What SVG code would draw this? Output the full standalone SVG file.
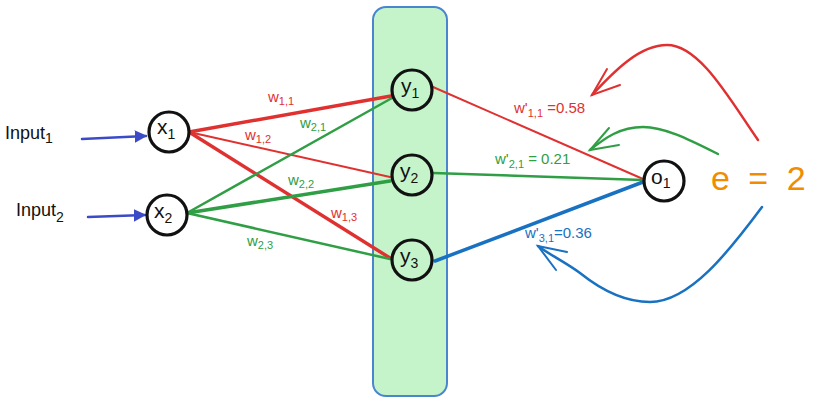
<svg xmlns="http://www.w3.org/2000/svg" width="817" height="404" viewBox="0 0 817 404">
<defs>
<style>
text{font-family:"Liberation Sans","DejaVu Sans",sans-serif}
.node{fill:#fff;stroke:#111;stroke-width:3.2}
.hnode{fill:#c5f4cb;stroke:#111;stroke-width:3.2}
.nl{font-size:21px;fill:#111}
.sub{font-size:14px}
.red{stroke:#e03131;fill:none;stroke-linecap:round}
.green{stroke:#2f9e44;fill:none;stroke-linecap:round}
.blue{stroke:#1971c2;fill:none;stroke-linecap:round}
.ind{stroke:#3b4bc8;fill:none;stroke-width:2.5;stroke-linecap:round}
.lr{fill:#e03131;font-size:15px}
.lg{fill:#2f9e44;font-size:15px}
.lb{fill:#1971c2;font-size:15px}
.ls{font-size:11px}
</style>
<marker id="ah" viewBox="0 0 10 10" refX="9" refY="5" markerWidth="5" markerHeight="5" orient="auto"><path d="M0,0 L10,5 L0,10 Z" fill="#3b4bc8"/></marker>
</defs>
<g id="layer">
<rect x="373" y="7" width="74" height="389" rx="13" fill="#c5f4cb" stroke="#4a86d0" stroke-width="2"/>
</g>
<g id="connectors">
<line class="ind" x1="82" y1="139" x2="146" y2="136" marker-end="url(#ah)"/>
<line class="ind" x1="88" y1="217" x2="145" y2="215" marker-end="url(#ah)"/>
<line class="red" x1="189" y1="132" x2="391" y2="96" stroke-width="3.5"/>
<line class="red" x1="189" y1="132" x2="390" y2="177" stroke-width="2"/>
<line class="red" x1="189" y1="132" x2="390" y2="258" stroke-width="3.5"/>
<line class="green" x1="187" y1="213" x2="392" y2="98" stroke-width="2.5"/>
<line class="green" x1="187" y1="213" x2="390" y2="181" stroke-width="3.5"/>
<line class="green" x1="187" y1="213" x2="390" y2="259" stroke-width="2.5"/>
<line class="red" x1="433" y1="87" x2="643" y2="179" stroke-width="2"/>
<line class="green" x1="433" y1="173" x2="643" y2="180" stroke-width="2.5"/>
<line class="blue" x1="435" y1="261" x2="643" y2="182" stroke-width="3.5"/>
<path class="red" stroke-width="2.5" d="M758,140 C730,100 700,45 667,45 C640,45 615,70 592,95"/>
<path class="red" stroke-width="2" d="M607,69 L592,95 L620,85"/>
<path class="green" stroke-width="2.5" d="M718,154 C690,140 665,127 643,127 C620,127 605,138 590,150"/>
<path class="green" stroke-width="2" d="M609,128 L590,150 L619,145"/>
<path class="blue" stroke-width="2.5" d="M762,207 C730,250 690,302 650,302 C620,302 595,285 580,273 C565,262 550,255 538,246"/>
<path class="blue" stroke-width="2" d="M567,252 L538,246 L556,270"/>
</g>
<g id="input1"><text x="5" y="139" font-size="18" fill="#111">Input<tspan class="sub" dy="4">1</tspan></text></g>
<g id="input2"><text x="16" y="216" font-size="18" fill="#111">Input<tspan class="sub" dy="6">2</tspan></text></g>
<g id="x1"><circle class="node" cx="169" cy="132" r="20"/><text class="nl" x="157" y="134">x<tspan class="sub" dy="5">1</tspan></text></g>
<g id="x2"><circle class="node" cx="167" cy="215" r="20"/><text class="nl" x="154" y="218">x<tspan class="sub" dy="5">2</tspan></text></g>
<g id="y1"><circle class="hnode" cx="412" cy="90" r="20"/><text class="nl" x="401" y="93">y<tspan class="sub" dy="5">1</tspan></text></g>
<g id="y2"><circle class="hnode" cx="412" cy="175" r="20"/><text class="nl" x="400" y="178">y<tspan class="sub" dy="5">2</tspan></text></g>
<g id="y3"><circle class="hnode" cx="412" cy="260" r="20"/><text class="nl" x="400" y="263">y<tspan class="sub" dy="5">3</tspan></text></g>
<g id="o1"><circle class="node" cx="664" cy="181" r="20"/><text class="nl" x="651" y="184">o<tspan class="sub" dy="4">1</tspan></text></g>
<g id="labels">
<text class="lr" x="268" y="102">w<tspan class="ls" dy="3">1,1</tspan></text>
<text class="lg" x="300" y="128">w<tspan class="ls" dy="3">2,1</tspan></text>
<text class="lr" x="245" y="140">w<tspan class="ls" dy="3">1,2</tspan></text>
<text class="lg" x="288" y="185">w<tspan class="ls" dy="3">2,2</tspan></text>
<text class="lr" x="331" y="218">w<tspan class="ls" dy="3">1,3</tspan></text>
<text class="lg" x="247" y="246">w<tspan class="ls" dy="3">2,3</tspan></text>
<text class="lr" x="514" y="113">w'<tspan class="ls" dy="4">1,1</tspan><tspan dy="-4"> =0.58</tspan></text>
<text class="lg" x="495" y="164">w'<tspan class="ls" dy="4">2,1</tspan><tspan dy="-4"> = 0.21</tspan></text>
<text class="lb" x="525" y="238">w'<tspan class="ls" dy="4">3,1</tspan><tspan dy="-4">=0.36</tspan></text>
<text x="711" y="190" font-size="34" fill="#f08c00">e <tspan dx="9">=</tspan><tspan dx="9"> 2</tspan></text>
</g>
</svg>
